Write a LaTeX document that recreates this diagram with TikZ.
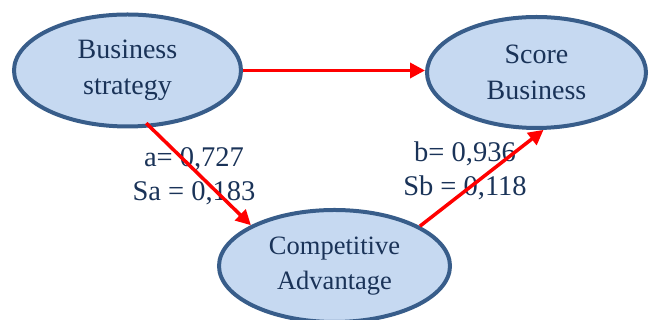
\documentclass[tikz,border=0pt]{standalone}
\usepackage{fontspec}
\setmainfont{Liberation Serif}
\usetikzlibrary{arrows.meta,shapes.geometric,calc}
\definecolor{efill}{HTML}{C6D9F1}
\definecolor{edraw}{HTML}{385D8A}
\definecolor{etext}{HTML}{1A3358}
\definecolor{ared}{HTML}{FF0000}
\tikzset{
  oval/.style={ellipse, draw=edraw, fill=efill, line width=4pt, text=etext, align=center, inner sep=0pt},
  bigtxt/.style={font=\fontsize{28}{36}\selectfont},
  midtxt/.style={font=\fontsize{26.5}{35}\selectfont},
  lbl/.style={text=etext, align=center, font=\fontsize{28.5}{34}\selectfont, inner sep=0pt},
  redarrow/.style={draw=ared, line width=3.5pt, -{Triangle[length=15pt,width=15pt]}}
}
\begin{document}
\begin{tikzpicture}[x=1pt,y=1pt]
\useasboundingbox (0,0) rectangle (649,320);
\node[oval, bigtxt, minimum width=227pt, minimum height=112pt] (bs) at (127.5,249.5) {Business\\strategy};
\node[oval, bigtxt, minimum width=219pt, minimum height=111pt] (ss) at (536.5,247.5) {Score\\Business};
\node[oval, midtxt, minimum width=231pt, minimum height=112pt] (ca) at (334.5,54) {Competitive\\Advantage};
\node[lbl] (la) at (194,144) {a= 0,727\\Sa = 0,183};
\node[lbl] (lb) at (465,149) {b= 0,936\\Sb = 0,118};
\draw[redarrow] (bs.east) -- (bs.east -| ss.west);
\draw[redarrow, shorten <=-6pt] (bs.-68) -- (ca.154.6);
\draw[redarrow] (ca.25) -- (ss.-83);
\end{tikzpicture}
\end{document}
